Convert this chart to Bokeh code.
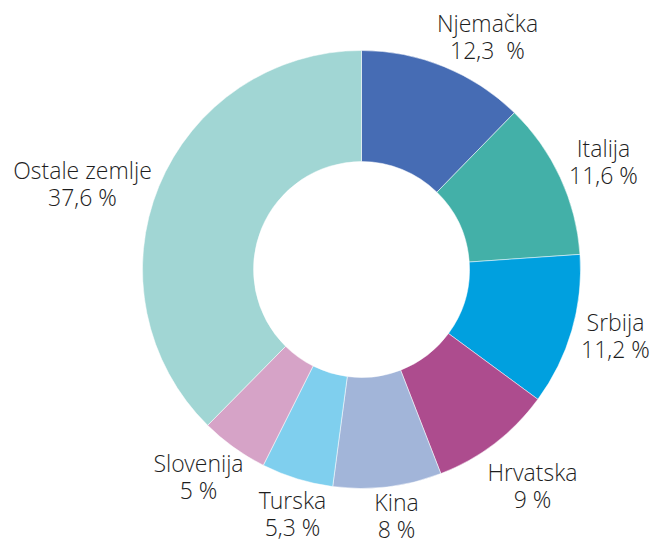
import math
from bokeh.plotting import figure
from bokeh.models import ColumnDataSource, Range1d
from bokeh.core.properties import value
from bokeh.embed import file_html
from bokeh.resources import INLINE

countries = ["Njemačka", "Italija", "Srbija", "Hrvatska", "Kina", "Turska", "Slovenija", "Ostale zemlje"]
shares = [12.3, 11.6, 11.2, 9.0, 8.0, 5.3, 5.0, 37.6]
share_labels = ["12,3 \u00a0%", "11,6 %", "11,2 %", "9 %", "8 %", "5,3 %", "5 %", "37,6 %"]
colors = ["#466cb4", "#43b0a8", "#00a0df", "#ad4c8e", "#a2b5d9", "#7fcfee", "#d6a3c7", "#a1d6d4"]

# layout (pixels, y measured from top; label y = baseline of first line)
W, H = 652, 543
cx, cy = 361, 269
r_out, r_in = 219, 108
label_pos = [(487, 33), (603, 158), (615, 332), (532, 482), (396, 512), (292, 510), (198, 473), (82, 180)]
line_gap = 27
shift = 11  # renderer places alphabetic baseline slightly lower

total = sum(shares)
starts, ends = [], []
cum = 0.0
for s in shares:
    a1 = math.pi / 2 - 2 * math.pi * cum / total
    cum += s
    a0 = math.pi / 2 - 2 * math.pi * cum / total
    starts.append(a0)
    ends.append(a1)

src = ColumnDataSource(dict(start=starts, end=ends, color=colors))

p = figure(width=W, height=H, output_backend="svg", toolbar_location=None,
           x_range=Range1d(0, W), y_range=Range1d(0, H), min_border=0)
p.annular_wedge(x=cx, y=H - cy, inner_radius=r_in, outer_radius=r_out,
                start_angle="start", end_angle="end", fill_color="color",
                line_color="white", line_width=0.5, source=src)

lx = [pos[0] for pos in label_pos]
ly1 = [H - pos[1] + shift for pos in label_pos]
ly2 = [H - pos[1] + shift - line_gap for pos in label_pos]
lsrc = ColumnDataSource(dict(x=lx, y1=ly1, y2=ly2, name=countries, pct=share_labels))
for ycol, tcol in (("y1", "name"), ("y2", "pct")):
    p.text(x="x", y=ycol, text=tcol, source=lsrc, text_font=value("Open Sans Light"),
           text_font_size="23px", text_color="#1e1e1e", text_align="center",
           text_baseline="alphabetic")

p.axis.visible = False
p.grid.visible = False
p.outline_line_color = None
p.background_fill_color = "white"
p.border_fill_color = "white"

open("out.html", "w").write(file_html(p, INLINE))
